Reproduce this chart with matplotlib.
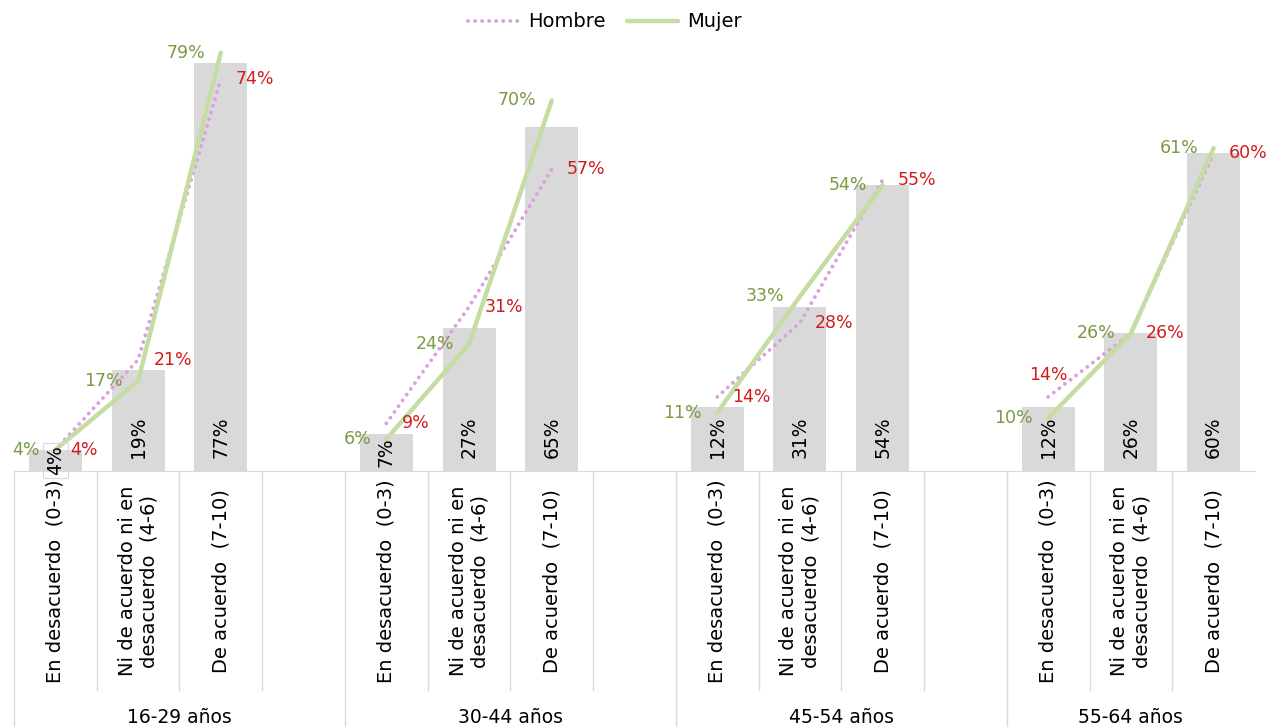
import matplotlib
matplotlib.use("Agg")
import matplotlib.pyplot as plt

groups = ['16-29 años', '30-44 años', '45-54 años', '55-64 años']
cats = ['En desacuerdo  (0-3)', 'Ni de acuerdo ni en\ndesacuerdo  (4-6)', 'De acuerdo  (7-10)']
total = [[4, 19, 77], [7, 27, 65], [12, 31, 54], [12, 26, 60]]
hombre = [[4, 21, 74], [9, 31, 57], [14, 28, 55], [14, 26, 60]]
mujer = [[4, 17, 79], [6, 24, 70], [11, 33, 54], [10, 26, 61]]
# where each hombre label sits relative to its point
hombre_lab = [['r', 'r', 'r'], ['r', 'r', 'r'], ['r', 'r', 'r'], ['t', 'r', 'r']]

BAR = '#d9d9d9'
GRID = '#d9d9d9'
C_H = '#dc9fe0'
C_M = '#c5dca2'
T_H = '#d01c1c'
T_M = '#7a9a45'

plt.rcParams['font.family'] = 'DejaVu Sans'
plt.rcParams['font.size'] = 12

fig = plt.figure(figsize=(12.74, 7.27), dpi=100)
ax = fig.add_axes([14/1274, 1-471/727, 1241/1274, 450/727])
ax.set_xlim(-0.5, 14.5)
ax.set_ylim(0, 85)

handles = []
for g in range(len(groups)):
    xs = [4*g + c for c in range(len(cats))]
    ax.bar(xs, total[g], width=0.64, color=BAR, zorder=1)
    for x, v in zip(xs, total[g]):
        if v < 10:
            ax.text(x, v/2, f'{v}%', rotation=90, ha='center', va='center',
                    fontsize=13.5, zorder=5,
                    bbox=dict(boxstyle='square,pad=0.15', fc='none', ec=GRID, lw=0.8))
        else:
            ax.annotate(f'{v}%', (x, 0), xytext=(0, 9), textcoords='offset points',
                        rotation=90, ha='center', va='bottom', fontsize=13.5, zorder=5)
    lh, = ax.plot(xs, hombre[g], color=C_H, lw=2.8, linestyle=(0, (0.01, 1.8)),
                  dash_capstyle='round', zorder=3, label='Hombre')
    lm, = ax.plot(xs, mujer[g], color=C_M, lw=3.2, solid_capstyle='round',
                  zorder=4, label='Mujer')
    if g == 0:
        handles = [lh, lm]
    for x, v in zip(xs, mujer[g]):
        ax.annotate(f'{v}%', (x, v), xytext=(-11, 0), textcoords='offset points',
                    ha='right', va='center', color=T_M, fontsize=12.5, zorder=6)
    for x, v, p in zip(xs, hombre[g], hombre_lab[g]):
        if p == 't':
            ax.annotate(f'{v}%', (x, v), xytext=(0, 16), textcoords='offset points',
                        ha='center', va='center', color=T_H, fontsize=12.5, zorder=6)
        else:
            ax.annotate(f'{v}%', (x, v), xytext=(11, 0), textcoords='offset points',
                        ha='left', va='center', color=T_H, fontsize=12.5, zorder=6)

for s in ['top', 'right', 'left']:
    ax.spines[s].set_visible(False)
ax.spines['bottom'].set_color(GRID)
ax.set_xticks([])
ax.set_yticks([])

# multi-level category axis
tr = ax.get_xaxis_transform()
bounds = [-0.5, 3.5, 7.5, 11.5, 14.5]
for k in range(15):
    x0 = k - 0.5
    if x0 in bounds:
        ax.plot([x0, x0], [0, -0.57], color=GRID, lw=1, transform=tr, clip_on=False)
    else:
        ax.plot([x0, x0], [0, -0.487], color=GRID, lw=1, transform=tr, clip_on=False)
for g in range(len(groups)):
    for c in range(len(cats)):
        ax.text(4*g + c, -0.245, cats[c], rotation=90, ha='center', va='center',
                multialignment='center', transform=tr, fontsize=14)
    ax.text((bounds[g] + bounds[g+1])/2, -0.547, groups[g], ha='center', va='center',
            transform=tr, fontsize=13.5)

fig.legend(handles=handles, loc='center', bbox_to_anchor=(0.475, 0.97), ncol=2,
           frameon=False, handlelength=2.6, columnspacing=1.1, handletextpad=0.5,
           fontsize=14)

fig.savefig('out.png', dpi=100)
